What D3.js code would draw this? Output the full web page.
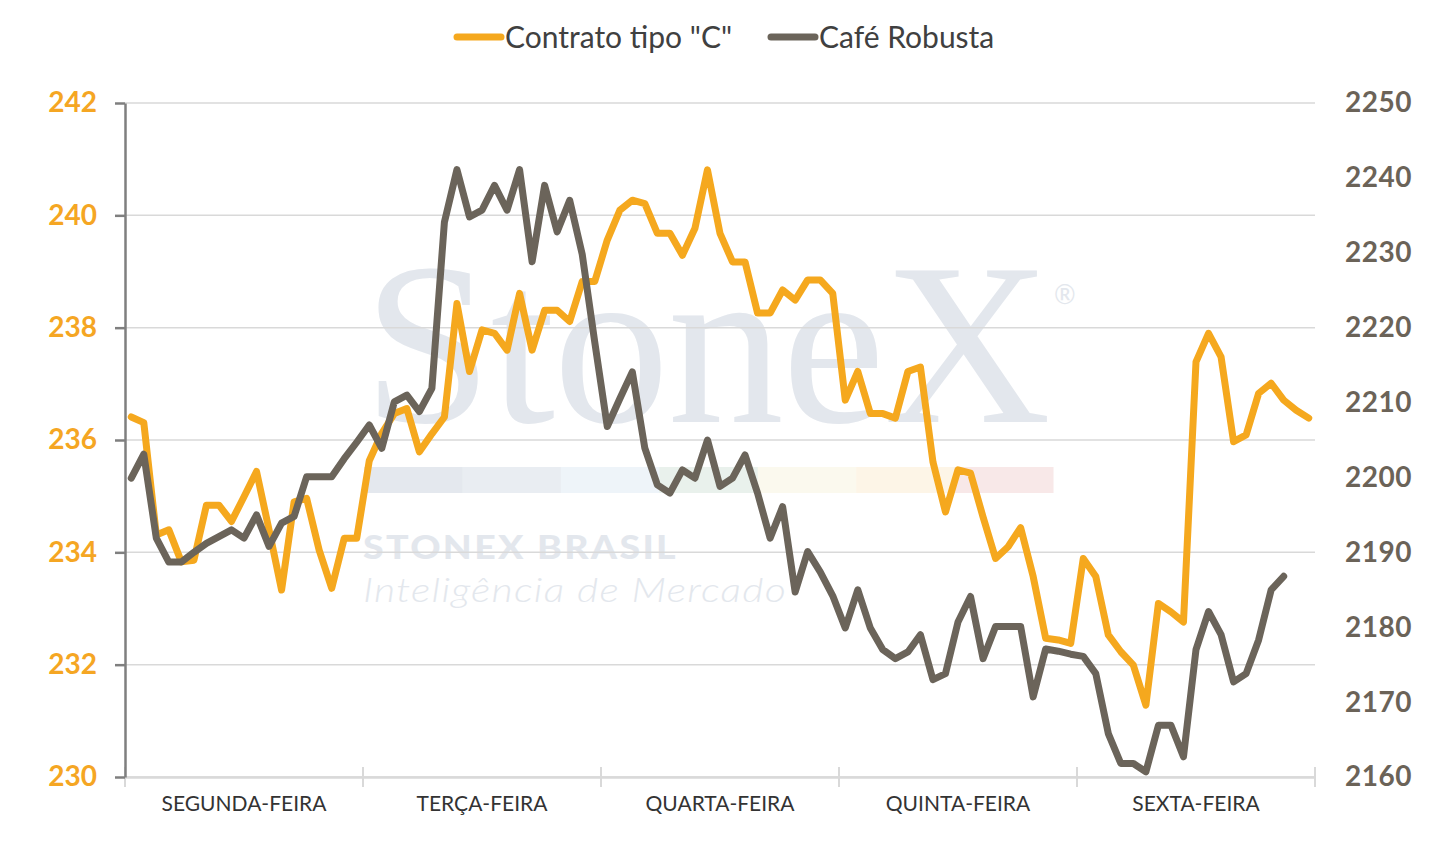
<!DOCTYPE html>
<html>
<head>
<meta charset="utf-8">
<script src="https://cdn.jsdelivr.net/npm/d3@7"></script>
<style>
    body { margin: 0; background: #fff; }
    svg { display: block; font-family: Lato, "Open Sans", sans-serif; }
</style>
</head>
<body>
<svg id="chart" width="1455" height="842"></svg>
<script>
// dias da semana (19 leituras intradiarias por dia)
const days = ["SEGUNDA-FEIRA", "TERÇA-FEIRA", "QUARTA-FEIRA", "QUINTA-FEIRA", "SEXTA-FEIRA"];
const perDay = 19;

const leftTicks = [230, 232, 234, 236, 238, 240, 242];
const rightTicks = [2160, 2170, 2180, 2190, 2200, 2210, 2220, 2230, 2240, 2250];

// Contrato tipo "C" (eixo esquerdo)
const arabica = [
    236.41, 236.31, 234.31, 234.40, 233.83, 233.86, 234.84, 234.84, 234.55, 234.99,
    235.44, 234.40, 233.33, 234.90, 234.96, 234.04, 233.36, 234.25, 234.25, 235.63,
    236.12, 236.47, 236.56, 235.79, 236.11, 236.41, 238.43, 237.22, 237.96, 237.90,
    237.60, 238.61, 237.60, 238.31, 238.31, 238.11, 238.82, 238.82, 239.56, 240.09,
    240.27, 240.21, 239.68, 239.68, 239.29, 239.77, 240.81, 239.68, 239.17, 239.17,
    238.26, 238.26, 238.67, 238.49, 238.85, 238.85, 238.61, 236.71, 237.22, 236.47,
    236.47, 236.39, 237.22, 237.30, 235.61, 234.72, 235.47, 235.41, 234.63, 233.89,
    234.10, 234.44, 233.57, 232.47, 232.44, 232.38, 233.89, 233.57, 232.53, 232.23,
    231.99, 231.28, 233.09, 232.94, 232.76, 237.39, 237.90, 237.48, 235.97, 236.09,
    236.83, 237.01, 236.71, 236.53, 236.39
];

// Café Robusta (eixo direito) - ultimas duas leituras sem dado
const robusta = [
    2199.9, 2203.1, 2191.9, 2188.7, 2188.7, 2190.0, 2191.2, 2192.1, 2193.0, 2191.9,
    2195.0, 2190.8, 2193.9, 2194.8, 2200.1, 2200.1, 2200.1, 2202.5, 2204.7, 2207.0,
    2203.9, 2210.1, 2211.0, 2208.8, 2211.9, 2234.1, 2241.1, 2234.8, 2235.7, 2239.0,
    2235.7, 2241.1, 2228.8, 2239.0, 2232.8, 2237.0, 2229.8, 2218.1, 2206.8, 2210.5,
    2214.1, 2203.9, 2199.0, 2197.9, 2201.0, 2199.9, 2205.0, 2198.8, 2199.9, 2203.0,
    2197.9, 2191.9, 2196.1, 2184.7, 2190.1, 2187.4, 2184.2, 2179.9, 2185.0, 2179.9,
    2177.0, 2175.8, 2176.7, 2179.0, 2173.0, 2173.8, 2180.7, 2184.1, 2175.8, 2180.1,
    2180.1, 2180.1, 2170.7, 2177.1, 2176.8, 2176.4, 2176.1, 2173.8, 2165.8, 2161.8,
    2161.8, 2160.7, 2166.9, 2166.9, 2162.7, 2177.0, 2182.1, 2179.0, 2172.7, 2173.8,
    2178.3, 2185.0, 2186.8, null, null
];

const series = [
    { name: 'Contrato tipo "C"', values: arabica, color: "#F5A81E", axis: "left" },
    { name: "Café Robusta", values: robusta, color: "#6B645A", axis: "right" }
];

const COLORS = {
    grid: "#d9d9d9",
    leftAxis: "#7f7f7f",
    leftText: "#F5A623",
    rightText: "#6B6358",
    label: "#333333",
    legend: "#404040",
    watermark: "#e3e7ed"
};

const margin = { left: 125, right: 140, top: 103, bottom: 65 };
const W = 1455, H = 842;
const x0 = margin.left, x1 = W - margin.right;
const y0 = H - margin.bottom, y1 = margin.top;

const svg = d3.select("#chart");

const points = d3.range(days.length * perDay);
const x = d3.scaleBand().domain(points).range([x0, x1]);
const xDay = d3.scaleBand().domain(days).range([x0, x1]);
const yL = d3.scaleLinear().domain([230, 242]).range([y0, y1]);
const yR = d3.scaleLinear().domain([2160, 2250]).range([y0, y1]);

// ─── MARCA D'AGUA ───
const wm = svg.append("g").attr("class", "watermark");
wm.append("text")
    .attr("x", 363).attr("y", 422)
    .attr("font-family", "'Liberation Serif', 'DejaVu Serif', serif")
    .attr("font-size", 232)
    .attr("fill", COLORS.watermark)
    .attr("textLength", 688)
    .text("StoneX");
wm.append("text")
    .attr("x", 1054).attr("y", 304)
    .attr("font-size", 26)
    .attr("fill", COLORS.watermark)
    .text("®");
const bandColors = ["#e4e8ee", "#e9edf2", "#eef4f9", "#e9f1ec", "#fbf9ee", "#fdf5e7", "#f8e8e8"];
const bandX = d3.scaleBand().domain(d3.range(bandColors.length)).range([364, 1053]);
wm.selectAll("rect.band")
    .data(bandColors)
    .join("rect")
    .attr("class", "band")
    .attr("x", (d, i) => bandX(i))
    .attr("y", 467)
    .attr("width", bandX.bandwidth() + 0.5)
    .attr("height", 26)
    .attr("fill", d => d);
wm.append("text")
    .attr("x", 363).attr("y", 559)
    .attr("font-size", 32)
    .attr("font-weight", 900)
    .attr("letter-spacing", 2)
    .attr("textLength", 315)
    .attr("lengthAdjust", "spacingAndGlyphs")
    .attr("fill", COLORS.watermark)
    .text("STONEX BRASIL");
wm.append("text")
    .attr("x", 363).attr("y", 602)
    .attr("font-size", 33)
    .attr("font-style", "italic")
    .attr("font-weight", 300)
    .attr("letter-spacing", 1)
    .attr("textLength", 424)
    .attr("lengthAdjust", "spacingAndGlyphs")
    .attr("fill", COLORS.watermark)
    .text("Inteligência de Mercado");

// ─── GRADE ───
svg.append("g")
    .attr("class", "grid")
    .selectAll("line")
    .data(leftTicks)
    .join("line")
    .attr("x1", x0).attr("x2", x1)
    .attr("y1", d => yL(d)).attr("y2", d => yL(d))
    .attr("stroke", COLORS.grid)
    .attr("stroke-width", 1.5);

// ─── EIXO X ───
const xAxis = svg.append("g")
    .attr("transform", `translate(0,${y0})`)
    .call(d3.axisBottom(xDay).tickSize(0).tickPadding(19));
xAxis.select(".domain").attr("stroke", COLORS.grid).attr("stroke-width", 2.5);
xAxis.selectAll("text")
    .attr("font-family", "Lato, sans-serif")
    .attr("font-size", 21)
    .attr("fill", COLORS.label);

const dayEdges = days.map(d => xDay(d)).concat([x1]);
svg.append("g")
    .selectAll("line")
    .data(dayEdges)
    .join("line")
    .attr("x1", d => d).attr("x2", d => d)
    .attr("y1", y0 - 10).attr("y2", y0 + 10)
    .attr("stroke", COLORS.grid)
    .attr("stroke-width", 2);

// ─── EIXO ESQUERDO ───
const leftAxis = svg.append("g")
    .attr("transform", `translate(${x0},0)`)
    .call(d3.axisLeft(yL).tickValues(leftTicks).tickSize(10).tickPadding(18).tickSizeOuter(0));
leftAxis.select(".domain").attr("stroke", COLORS.leftAxis).attr("stroke-width", 2.5);
leftAxis.selectAll(".tick line").attr("stroke", COLORS.leftAxis).attr("stroke-width", 2.5);
leftAxis.selectAll("text")
    .attr("font-family", "Lato, sans-serif")
    .attr("font-size", 28)
    .attr("font-weight", 700)
    .attr("fill", COLORS.leftText);

// ─── EIXO DIREITO ───
const rightAxis = svg.append("g")
    .attr("transform", `translate(${x1},0)`)
    .call(d3.axisRight(yR).tickValues(rightTicks).tickFormat(d3.format("d")).tickSize(0).tickPadding(30));
rightAxis.select(".domain").remove();
rightAxis.selectAll("text")
    .attr("font-family", "Lato, sans-serif")
    .attr("font-size", 28)
    .attr("font-weight", 700)
    .attr("letter-spacing", 0.5)
    .attr("fill", COLORS.rightText);

// ─── SERIES ───
const cx = i => x(i) + x.bandwidth() / 2;
series.forEach(s => {
    const yScale = s.axis === "left" ? yL : yR;
    const line = d3.line()
        .defined(d => d != null)
        .x((d, i) => cx(i))
        .y(d => yScale(d));
    svg.append("path")
        .datum(s.values)
        .attr("fill", "none")
        .attr("stroke", s.color)
        .attr("stroke-width", 7)
        .attr("stroke-linejoin", "round")
        .attr("stroke-linecap", "round")
        .attr("d", line);
});

// ─── LEGENDA ───
const legendPos = [457, 771];
const legend = svg.append("g").attr("class", "legend");
const item = legend.selectAll("g")
    .data(series)
    .join("g")
    .attr("transform", (d, i) => `translate(${legendPos[i]},37)`);
item.append("line")
    .attr("x1", 0).attr("x2", 44)
    .attr("stroke", d => d.color)
    .attr("stroke-width", 7)
    .attr("stroke-linecap", "round");
item.append("text")
    .attr("x", 48)
    .attr("dy", "0.35em")
    .attr("font-size", 30)
    .attr("fill", COLORS.legend)
    .text(d => d.name);
</script>
</body>
</html>
